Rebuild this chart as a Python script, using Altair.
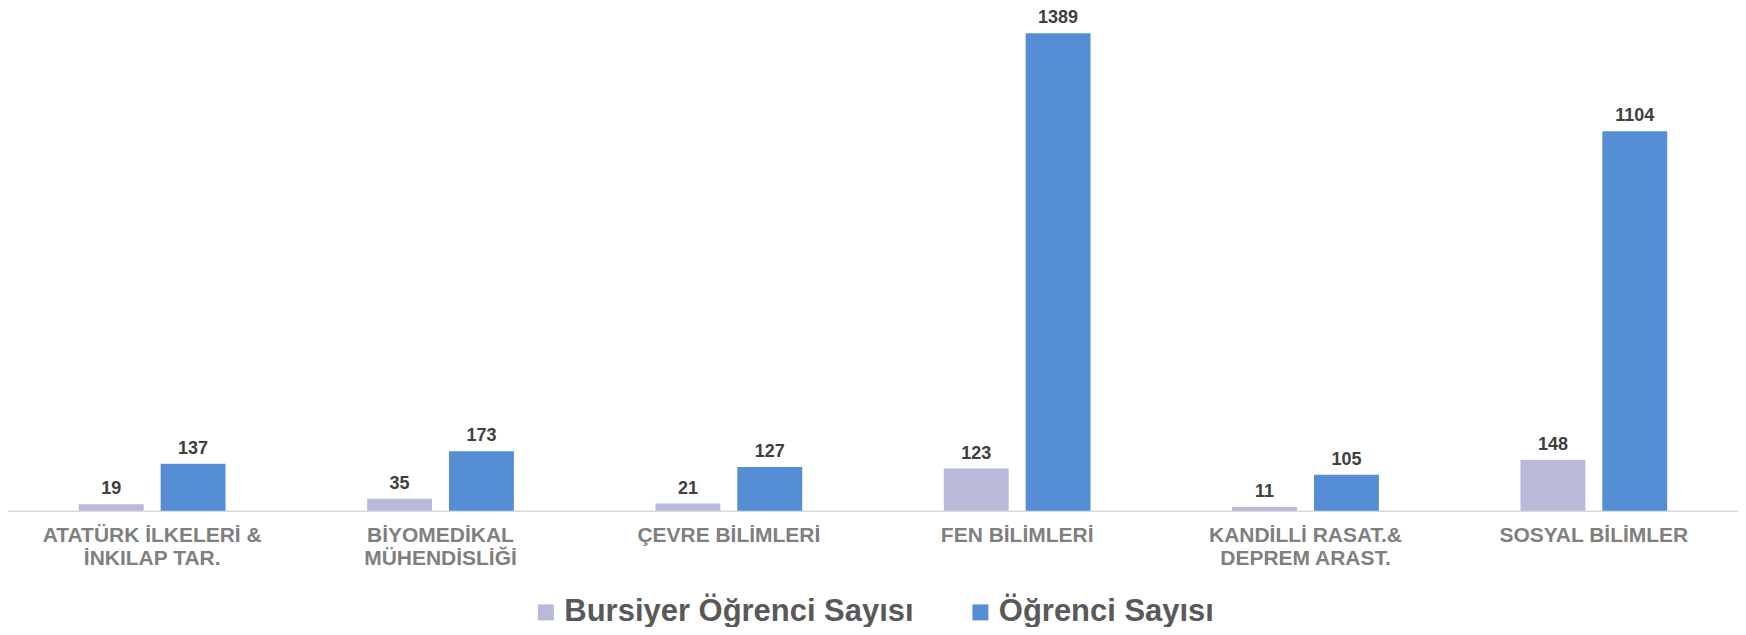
import altair as alt
import pandas as pd

categories = [
    "ATATÜRK İLKELERİ &|İNKILAP TAR.",
    "BİYOMEDİKAL|MÜHENDİSLİĞİ",
    "ÇEVRE BİLİMLERİ",
    "FEN BİLİMLERİ",
    "KANDİLLİ RASAT.&|DEPREM ARAST.",
    "SOSYAL BİLİMLER",
]
series_names = ["Bursiyer Öğrenci Sayısı", "Öğrenci Sayısı"]
bursiyer = [19, 35, 21, 123, 11, 148]
ogrenci = [137, 173, 127, 1389, 105, 1104]
colors = ["#B9BADA", "#558ED5"]

rows = []
for c, b, o in zip(categories, bursiyer, ogrenci):
    rows.append({"cat": c, "series": series_names[0], "value": b})
    rows.append({"cat": c, "series": series_names[1], "value": o})
df = pd.DataFrame(rows)

FONT = "Liberation Sans"

x = alt.X(
    "cat:N",
    sort=categories,
    title=None,
    scale=alt.Scale(paddingInner=0.491, paddingOuter=0.2455),
    axis=alt.Axis(
        labelAngle=0,
        labelExpr="split(datum.label, '|')",
        labelFont=FONT,
        labelFontSize=21,
        labelFontWeight="bold",
        labelColor="#7F7F7F",
        labelLineHeight=23,
        labelPadding=14,
        labelLimit=0,
        ticks=False,
        domainColor="#D9D9D9",
        domainWidth=1.5,
        grid=False,
    ),
)
xoff = alt.XOffset(
    "series:N",
    sort=series_names,
    scale=alt.Scale(paddingInner=0.207, paddingOuter=0),
)
y = alt.Y(
    "value:Q",
    scale=alt.Scale(domain=[0, 1461.7], nice=False, zero=True),
    axis=None,
)

bars = alt.Chart(df).mark_bar().encode(
    x=x,
    xOffset=xoff,
    y=y,
    color=alt.Color(
        "series:N",
        sort=series_names,
        scale=alt.Scale(domain=series_names, range=colors),
        legend=alt.Legend(
            title=None,
            orient="none",
            direction="horizontal",
            legendX=523,
            legendY=589,
            symbolType="square",
            symbolSize=256,
            symbolStrokeWidth=0,
            symbolOpacity=1,
            labelFont=FONT,
            labelFontSize=31,
            labelFontWeight="bold",
            labelColor="#595959",
            labelOffset=3,
            columnPadding=51,
            labelLimit=600,
        ),
    ),
)

labels = alt.Chart(df).mark_text(
    baseline="alphabetic",
    dy=-10,
    font=FONT,
    fontSize=18,
    fontWeight="bold",
    color="#404040",
).encode(
    x=x,
    xOffset=xoff,
    y=y,
    text="value:Q",
)

chart = (
    alt.layer(bars, labels)
    .properties(
        width=1732,
        height=503,
        padding={"left": 0, "top": 0, "right": 0, "bottom": 116},
        autosize="none",
        background="white",
    )
    .configure_view(strokeWidth=0, stroke="transparent")
)

chart.save("out.html", embed_options={"renderer": "svg", "actions": False})
